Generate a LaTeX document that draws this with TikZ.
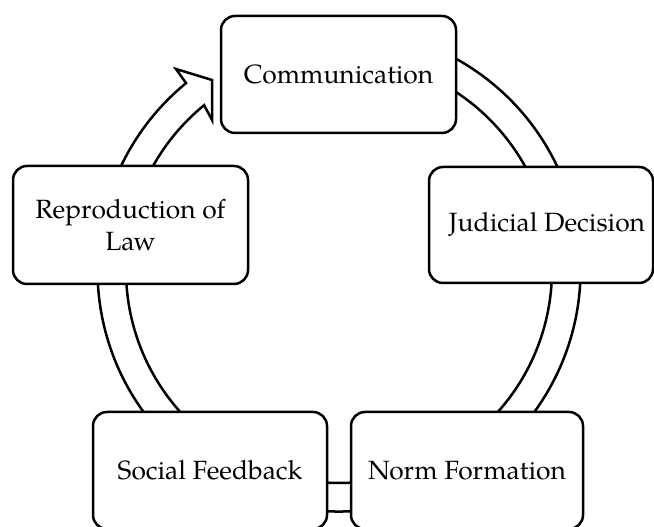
\documentclass[tikz,border=0pt]{standalone}
\usepackage{fontspec}
\setmainfont{TeX Gyre Pagella}
\begin{document}
\begin{tikzpicture}[x=1pt,y=1pt,
  stage/.style={draw=black, line width=2.5pt, fill=white, rounded corners=14pt,
    align=center, inner sep=0pt, font=\fontsize{26.4}{32}\selectfont},
  band/.style={draw=black, line width=2.5pt, fill=white, line join=miter}]
\clip (0,0) rectangle (654,527);

% centre of the circular arrow that links the stages
\coordinate (c) at (339,257);
\coordinate (barb) at (176,458);
\coordinate (tipA) at (212,447);
\coordinate (tipB) at (212,407);

\draw[band] ([shift={(100:241.5)}]c) arc[start angle=100, end angle=-230.7, radius=241.5]
  -- (barb) -- (tipA) -- (tipB) -- ([shift={(129.3:213)}]c)
  arc[start angle=-230.7, end angle=100, radius=213] -- cycle;

% the five stages
\node[stage, minimum width=235pt, minimum height=117pt] (comm) at (338.5,452.5) {Communication};
\node[stage, minimum width=224pt, minimum height=116pt] (jud) at (541,302) {\hspace*{12pt}Judicial Decision};
\node[stage, minimum width=232pt, minimum height=117pt] (norm) at (467,56.5) {Norm Formation};
\node[stage, minimum width=234pt, minimum height=117pt] (soc) at (210,56.5) {Social Feedback};
\node[stage, minimum width=235pt, minimum height=118pt] (repr) at (130.5,302) {Reproduction of\\Law};
\end{tikzpicture}
\end{document}
